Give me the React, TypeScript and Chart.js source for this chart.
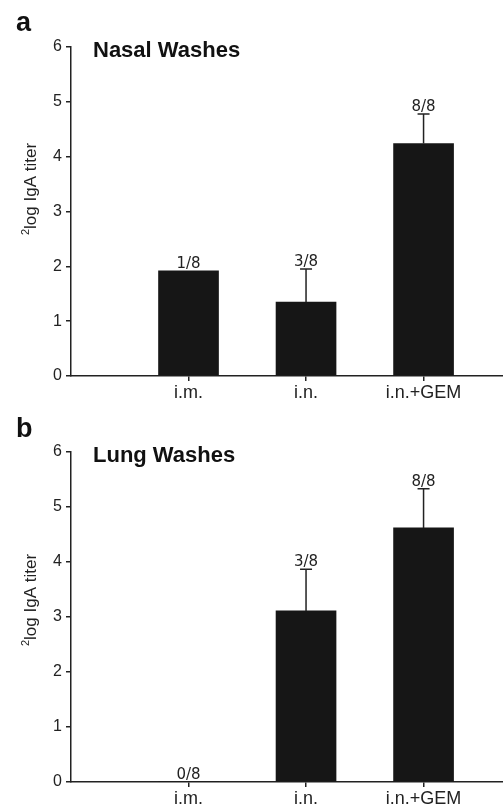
import React, { useEffect, useRef } from "react";
import { Chart, registerables } from "chart.js";

Chart.register(...registerables);

// ---- data ----
const categories = ["i.m.", "i.n.", "i.n.+GEM"];
const categoryPositions = [1, 2, 3];
const nasalMeans = [1.92, 1.35, 4.24];
const nasalErrors = [0, 0.6, 0.54];
const nasalResponders = ["1/8", "3/8", "8/8"];
const lungMeans = [0, 3.11, 4.62];
const lungErrors = [0, 0.76, 0.71];
const lungResponders = ["0/8", "3/8", "8/8"];

const INK = "#222222";
const BAR = "#161616";
const SANS = '"Liberation Sans", Arial, Helvetica, sans-serif';

type PanelProps = {
  letter: string;
  title: string;
  means: number[];
  errors: number[];
  responders: string[];
  topPad: number;
  xHeight: number;
  letterBase: number;
  titleBase: number;
  yTitleCenter: number;
};

function Panel(p: PanelProps) {
  const ref = useRef<HTMLCanvasElement | null>(null);
  useEffect(() => {
    if (!ref.current) return;
    const annot = {
      id: "annot",
      afterDatasetsDraw(chart: any) {
        const ctx = chart.ctx as CanvasRenderingContext2D;
        const meta = chart.getDatasetMeta(0);
        const ys = chart.scales.y;
        ctx.save();
        ctx.strokeStyle = INK;
        ctx.lineWidth = 1.5;
        ctx.fillStyle = INK;
        p.means.forEach((m, i) => {
          const el = meta.data[i];
          const x = el.x;
          const yBar = ys.getPixelForValue(m);
          let yTop = yBar;
          if (p.errors[i] > 0) {
            yTop = ys.getPixelForValue(m + p.errors[i]);
            ctx.beginPath();
            ctx.moveTo(x, yBar);
            ctx.lineTo(x, yTop);
            ctx.moveTo(x - 6, yTop);
            ctx.lineTo(x + 6, yTop);
            ctx.stroke();
          }
          ctx.font = '15px "DejaVu Sans", sans-serif';
          ctx.textAlign = "center";
          ctx.textBaseline = "alphabetic";
          ctx.fillText(p.responders[i], x, yTop - 3);
        });
        // panel letter
        ctx.textAlign = "left";
        ctx.font = "bold 27px " + SANS;
        ctx.fillStyle = "#111";
        ctx.fillText(p.letter, 16, p.letterBase);
        // panel title
        ctx.font = "bold 22px " + SANS;
        ctx.fillText(p.title, 93, p.titleBase);
        // y title with superscript 2
        ctx.fillStyle = INK;
        ctx.translate(30, p.yTitleCenter);
        ctx.rotate(-Math.PI / 2);
        const mainFont = "17px " + SANS;
        const supFont = "11px " + SANS;
        const main = "log IgA titer";
        ctx.font = supFont;
        const wSup = ctx.measureText("2").width;
        ctx.font = mainFont;
        const wMain = ctx.measureText(main).width;
        const start = -(wSup + wMain) / 2;
        ctx.textBaseline = "alphabetic";
        ctx.font = supFont;
        ctx.fillText("2", start, -1);
        ctx.font = mainFont;
        ctx.fillText(main, start + wSup, 6);
        ctx.restore();
      },
    };
    const chart = new Chart(ref.current, {
      type: "bar",
      data: {
        datasets: [
          {
            data: categoryPositions.map((x, i) => ({ x, y: p.means[i] })),
            backgroundColor: BAR,
            borderWidth: 0,
            barThickness: 60,
          },
        ],
      },
      options: {
        responsive: false,
        animation: false,
        events: [],
        layout: { padding: { top: p.topPad, left: 0, right: 0, bottom: 0 } },
        plugins: { legend: { display: false }, tooltip: { enabled: false } },
        scales: {
          x: {
            type: "linear",
            min: 0,
            max: 3.676,
            offset: false,
            afterBuildTicks: (s: any) => {
              s.ticks = categoryPositions.map((v) => ({ value: v }));
            },
            afterFit: (s: any) => {
              s.height = p.xHeight;
            },
            ticks: {
              callback: (_v: any, idx: number) => categories[idx],
              font: { family: SANS, size: 18 },
              color: INK,
              padding: 1,
              maxRotation: 0,
              autoSkip: false,
            },
            grid: {
              offset: false,
              drawOnChartArea: false,
              drawTicks: true,
              tickLength: 5,
              color: INK,
              lineWidth: 1.5,
            },
            border: { display: true, color: INK, width: 1.5 },
          },
          y: {
            min: 0,
            max: 6,
            afterFit: (s: any) => {
              s.width = 71;
            },
            ticks: {
              stepSize: 1,
              font: { family: SANS, size: 16 },
              color: INK,
              padding: 4,
            },
            grid: { drawOnChartArea: false, drawTicks: true, tickLength: 5, color: INK, lineWidth: 1.5 },
            border: { display: true, color: INK, width: 1.5 },
          },
        },
      } as any,
      plugins: [annot as any],
    });
    return () => chart.destroy();
  }, []);
  return <canvas ref={ref} width={503} height={403} style={{ display: "block", width: 503, height: 403 }} />;
}

export default function App() {
  useEffect(() => {
    document.body.style.margin = "0";
    document.body.style.background = "#ffffff";
  }, []);
  return (
    <div style={{ width: 503, height: 806, background: "#fff" }}>
      <Panel
        letter="a"
        title="Nasal Washes"
        means={nasalMeans}
        errors={nasalErrors}
        responders={nasalResponders}
        topPad={47}
        xHeight={27}
        letterBase={31}
        titleBase={57}
        yTitleCenter={189}
      />
      <Panel
        letter="b"
        title="Lung Washes"
        means={lungMeans}
        errors={lungErrors}
        responders={lungResponders}
        topPad={49}
        xHeight={24}
        letterBase={34}
        titleBase={59}
        yTitleCenter={197}
      />
    </div>
  );
}
